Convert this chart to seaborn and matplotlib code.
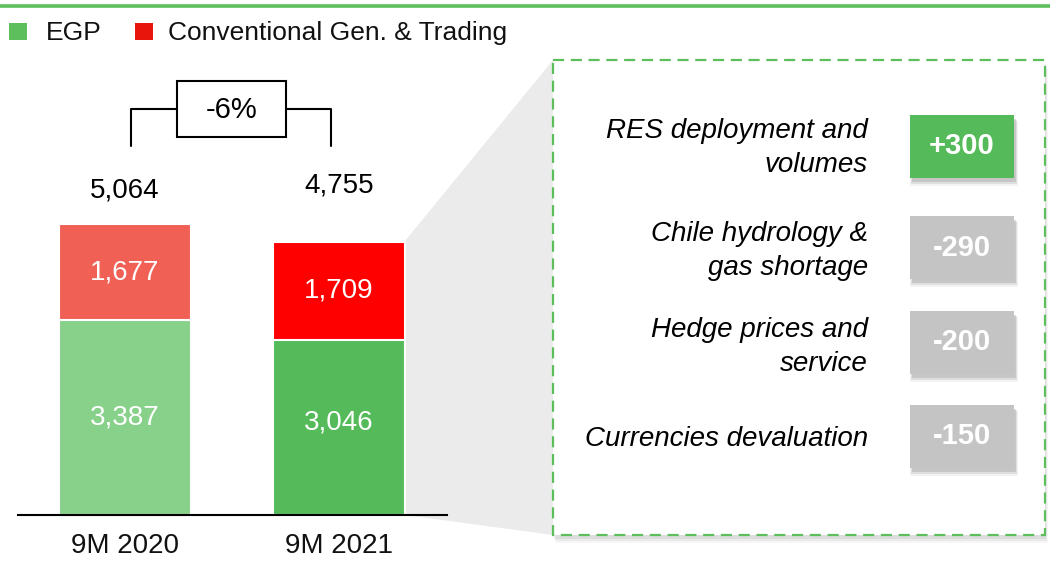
import matplotlib
matplotlib.use("Agg")
import matplotlib.pyplot as plt
import seaborn as sns
import pandas as pd
from matplotlib.patches import Rectangle, Polygon

# ---------------- data ----------------
periods = ["9M 2020", "9M 2021"]
egp = [3387, 3046]
conventional = [1677, 1709]
change_label = "-6%"
legend_labels = ["EGP", "Conventional Gen. & Trading"]
driver_labels = ["RES deployment and\nvolumes", "Chile hydrology &\ngas shortage",
                 "Hedge prices and\nservice", "Currencies devaluation"]
driver_values = ["+300", "-290", "-200", "-150"]

# ---------------- style ----------------
sns.set_theme(style="white")
plt.rcParams['font.family'] = ['Liberation Sans', 'DejaVu Sans']

GREEN = "#55bb5a"
GREEN_LIGHT = "#88d18a"
RED = "#ff0000"
RED_LIGHT = "#f06055"
LEG_GREEN = "#5cbf5c"
LEG_RED = "#e8150c"
GRAY_BOX = "#c4c4c4"
GRAY_ZOOM = "#ebebeb"

W, H = 1050, 563
fig = plt.figure(figsize=(W / 100, H / 100), dpi=100)

# overlay axes in pixel coordinates (y downwards)
ov = fig.add_axes([0, 0, 1, 1])
ov.set_xlim(0, W)
ov.set_ylim(H, 0)
ov.axis('off')
ov.set_zorder(0)

# ---------------- bar axes ----------------
px_per_unit = 0.05747
ymax = 8000
base = 515
ax_left, ax_right = 18, 447
ax = fig.add_axes([ax_left / W, (H - base) / H, (ax_right - ax_left) / W, ymax * px_per_unit / H])
ax.set_zorder(1)
ax.patch.set_alpha(0)

df = pd.DataFrame({"period": periods, "egp": egp, "conv": conventional})
df["total"] = df["egp"] + df["conv"]

sns.barplot(data=df, x="period", y="total", hue="period",
            palette={periods[0]: RED_LIGHT, periods[1]: RED},
            width=0.617, saturation=1, legend=False, ax=ax,
            edgecolor="white", linewidth=1.5)
sns.barplot(data=df, x="period", y="egp", hue="period",
            palette={periods[0]: GREEN_LIGHT, periods[1]: GREEN},
            width=0.617, saturation=1, legend=False, ax=ax,
            edgecolor="white", linewidth=1.5)

ax.set_xlim(-0.5, 1.505)
ax.set_ylim(0, ymax)
for s in ["top", "right", "left"]:
    ax.spines[s].set_visible(False)
ax.spines["bottom"].set_color("black")
ax.spines["bottom"].set_linewidth(1.5)
ax.set_yticks([])
ax.set_xlabel("")
ax.set_ylabel("")
ax.tick_params(axis="x", length=0, pad=13, labelsize=20, labelcolor="#111111")

for i, row in df.iterrows():
    ax.text(i, row["egp"] / 2 + 90 * i, f"{row['egp']:,}", ha="center", va="center",
            color="white", fontsize=20)
    ax.text(i, row["egp"] + row["conv"] / 2, f"{row['conv']:,}", ha="center", va="center",
            color="white", fontsize=20)
    ax.text(i, 5640 + 90 * i, f"{row['total']:,}", ha="center", va="center",
            color="black", fontsize=20)

# ---------------- overlay decorations ----------------
# top green line
ov.plot([0, W], [5.8, 5.8], color=LEG_GREEN, lw=2.6, solid_capstyle="butt")

# legend
ov.add_patch(Rectangle((9, 23), 18, 17, color=LEG_GREEN, lw=0))
ov.text(46, 33, legend_labels[0], ha="left", va="center", fontsize=19, color="#111111")
ov.add_patch(Rectangle((135, 23), 18, 17, color=LEG_RED, lw=0))
ov.text(168, 33, legend_labels[1], ha="left", va="center", fontsize=19, color="#111111")

# bracket with change
ov.plot([131, 131, 177], [146, 109, 109], color="black", lw=1.5)
ov.plot([286, 331, 331], [109, 109, 146], color="black", lw=1.5)
ov.add_patch(Rectangle((177, 81), 109, 56, fill=False, ec="black", lw=1.5))
ov.text(231.5, 110, change_label, ha="center", va="center", fontsize=21, color="black")

# zoom trapezoid
ov.add_patch(Polygon([(405, 241), (553, 60), (553, 535), (405, 515)],
                     closed=True, color=GRAY_ZOOM, lw=0, zorder=1))

# panel shadow + panel
for k, a in enumerate([0.10, 0.08, 0.06]):
    ov.add_patch(Rectangle((553 + 1 + k, 62 + 2 + k * 2), 492, 475, color="#666666",
                           alpha=a, lw=0, zorder=2))
ov.add_patch(Rectangle((553, 60), 492, 475, facecolor="white", edgecolor=LEG_GREEN,
                       lw=1.6, linestyle=(0, (5, 3)), zorder=3))

# drivers
text_centers = [148, 251, 347, 439]
box_tops = [115, 216, 311, 405]
box_h = 63
for lab, val, tc, bt in zip(driver_labels, driver_values, text_centers, box_tops):
    ov.text(868, tc, lab, ha="right", va="center", fontsize=20, style="italic",
            color="black", linespacing=1.4, zorder=5)
    fc = GREEN if val.startswith("+") else GRAY_BOX
    for k, a in enumerate([0.18, 0.12, 0.07]):
        ov.add_patch(Rectangle((910 + 2 - k, bt + 4 + k), 104 + 2 * k, box_h + k,
                               color="#555555", alpha=a, lw=0, zorder=4))
    ov.add_patch(Rectangle((910, bt), 104, box_h, color=fc, lw=0, zorder=4.5))
    ov.text(962, bt + box_h / 2, val, ha="center", va="center", fontsize=21,
            fontweight="bold", color="white", zorder=5)

fig.savefig("out.png", dpi=100)
